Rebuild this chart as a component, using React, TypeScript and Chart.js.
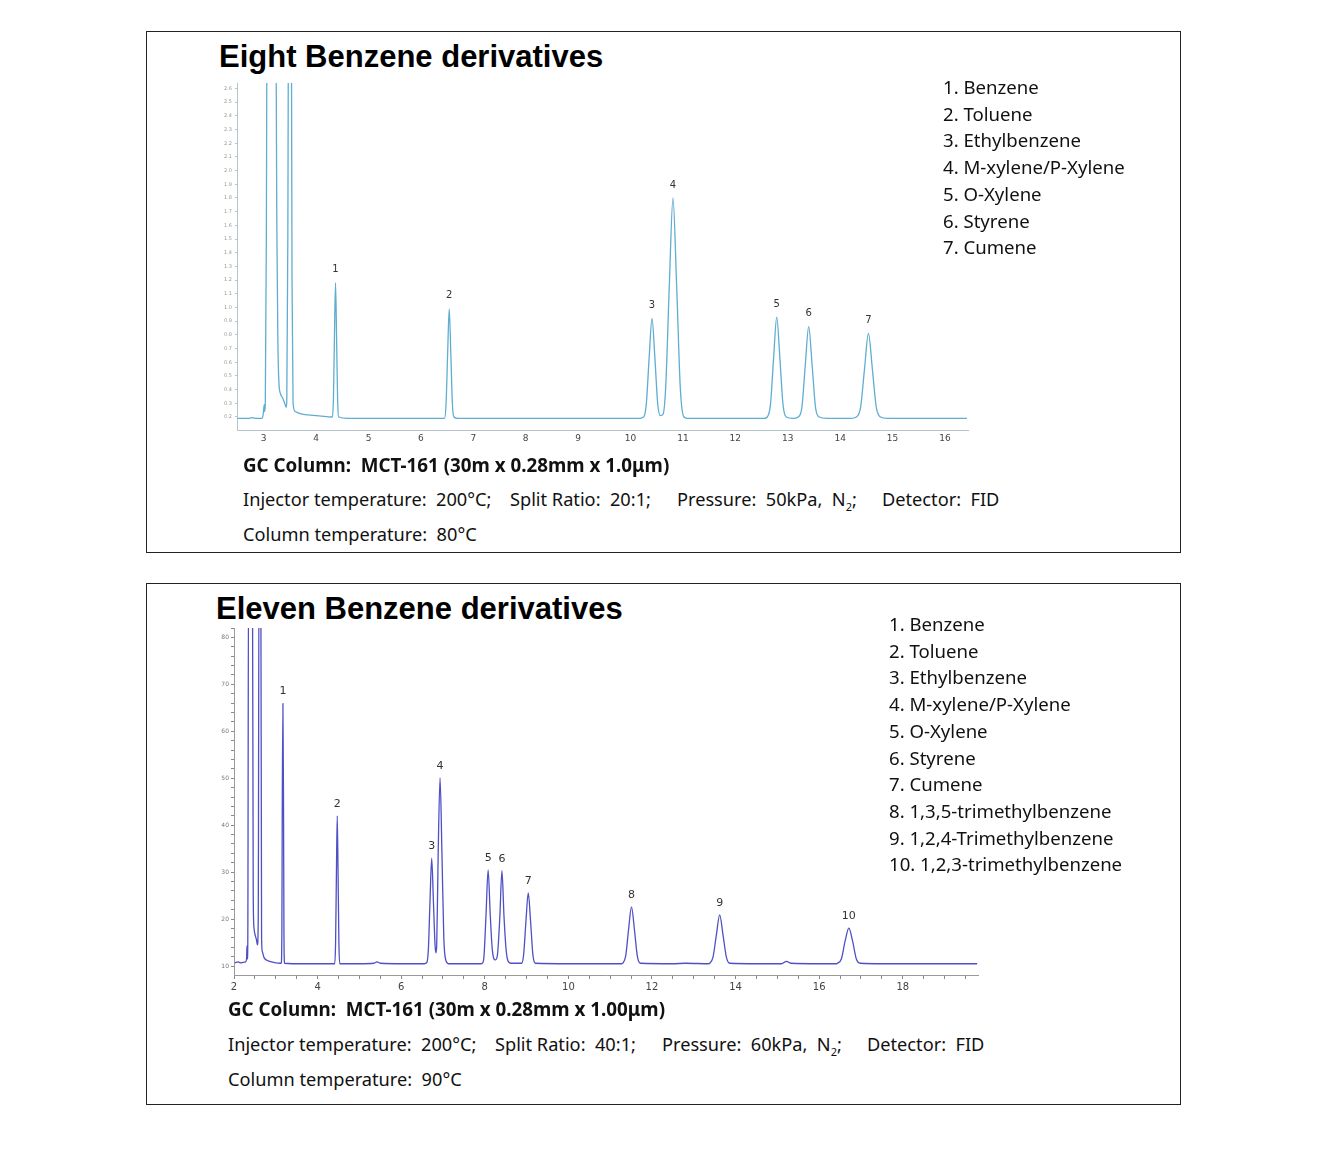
import React, { useEffect, useRef } from "react";
import { Chart, registerables } from "chart.js";

Chart.register(...registerables);

// ---------- Chart 1: Eight Benzene derivatives ----------
const topTitle = "Eight Benzene derivatives";
const topCompounds = [
  "1. Benzene",
  "2. Toluene",
  "3. Ethylbenzene",
  "4. M-xylene/P-Xylene",
  "5. O-Xylene",
  "6. Styrene",
  "7. Cumene",
];
const topPeakNumbers = ["1", "2", "3", "4", "5", "6", "7"];
const topPeakTimes = [4.37, 6.54, 10.41, 10.81, 12.79, 13.4, 14.54];
const topPeakHeights = [1.18, 0.99, 0.92, 1.8, 0.93, 0.86, 0.81];
const topXTicks = [3, 4, 5, 6, 7, 8, 9, 10, 11, 12, 13, 14, 15, 16];
// retention time (min), signal
const topTrace: [number, number][] = [
  [2.5, 0.19], [2.7, 0.19], [2.78, 0.195], [2.82, 0.192], [2.9, 0.19], [2.97, 0.19],
  [2.99, 0.22], [3.01, 0.29], [3.02, 0.24], [3.03, 0.3], [3.05, 1.5], [3.07, 4.0],
  [3.22, 4.0], [3.25, 1.6], [3.27, 0.75], [3.29, 0.45], [3.32, 0.37], [3.36, 0.34],
  [3.4, 0.3], [3.43, 0.27], [3.44, 0.32], [3.46, 1.5], [3.48, 4.0], [3.52, 4.0],
  [3.54, 1.2], [3.56, 0.3], [3.6, 0.24], [3.7, 0.225], [3.85, 0.215], [4.0, 0.21],
  [4.15, 0.205], [4.28, 0.2],
  [4.31, 0.2], [4.33, 0.33], [4.35, 0.79], [4.37, 1.18], [4.39, 0.79], [4.41, 0.33], [4.43, 0.2],
  [4.6, 0.19], [5.0, 0.19], [5.5, 0.19], [6.0, 0.19], [6.4, 0.19],
  [6.45, 0.19], [6.48, 0.3], [6.51, 0.67], [6.54, 0.99], [6.57, 0.67], [6.6, 0.3], [6.63, 0.2],
  [6.7, 0.19], [7.5, 0.19], [8.5, 0.19], [9.5, 0.19], [10.15, 0.19],
  [10.25, 0.2], [10.3, 0.29], [10.355, 0.63], [10.41, 0.92], [10.465, 0.63], [10.52, 0.29],
  [10.57, 0.21], [10.62, 0.22],
  [10.67, 0.41], [10.74, 1.16], [10.81, 1.8], [10.88, 1.16], [10.95, 0.41], [11.02, 0.2],
  [11.1, 0.19], [12.0, 0.19], [12.55, 0.19],
  [12.61, 0.2], [12.67, 0.29], [12.73, 0.63], [12.79, 0.93], [12.85, 0.63], [12.91, 0.29],
  [12.97, 0.2], [13.1, 0.19],
  [13.2, 0.2], [13.27, 0.27], [13.335, 0.58], [13.4, 0.86], [13.465, 0.58], [13.53, 0.27],
  [13.6, 0.2], [13.75, 0.19], [14.2, 0.19], [14.31, 0.2],
  [14.39, 0.27], [14.465, 0.55], [14.54, 0.81], [14.615, 0.55], [14.69, 0.27], [14.77, 0.2],
  [14.9, 0.19], [16.42, 0.19],
];
const topColumn = "GC Column:  MCT-161 (30m x 0.28mm x 1.0μm)";
const topConditions = ["Injector temperature:  200°C;", "Split Ratio:  20:1;", "Pressure:  50kPa,  N|2|;", "Detector:  FID"];
const topColumnTemp = "Column temperature:  80°C";

// ---------- Chart 2: Eleven Benzene derivatives ----------
const botTitle = "Eleven Benzene derivatives";
const botCompounds = [
  "1. Benzene",
  "2. Toluene",
  "3. Ethylbenzene",
  "4. M-xylene/P-Xylene",
  "5. O-Xylene",
  "6. Styrene",
  "7. Cumene",
  "8. 1,3,5-trimethylbenzene",
  "9. 1,2,4-Trimethylbenzene",
  "10. 1,2,3-trimethylbenzene",
];
const botPeakNumbers = ["1", "2", "3", "4", "5", "6", "7", "8", "9", "10"];
const botPeakTimes = [3.17, 4.47, 6.73, 6.93, 8.08, 8.41, 9.04, 11.51, 13.62, 16.71];
const botPeakHeights = [65.9, 42.0, 33.0, 50.1, 30.5, 30.3, 25.6, 22.6, 20.9, 18.1];
const botTrace: [number, number][] = [
  [2.02, 10.7], [2.1, 10.9], [2.16, 10.7], [2.22, 10.8], [2.28, 10.9], [2.3, 11.5],
  [2.31, 14.3], [2.32, 11.5], [2.33, 15], [2.35, 100], [2.44, 100], [2.46, 25], [2.48, 18],
  [2.51, 16.5], [2.54, 15.5], [2.56, 14.5], [2.58, 20], [2.6, 100], [2.64, 100], [2.66, 16],
  [2.68, 13], [2.72, 11.8], [2.8, 11.2], [2.9, 10.9], [3.0, 10.7], [3.1, 10.6],
  [3.13, 10.6], [3.145, 17], [3.155, 44], [3.17, 65.9], [3.185, 44], [3.195, 17], [3.21, 10.6],
  [3.4, 10.5], [4.0, 10.5], [4.38, 10.5],
  [4.41, 10.5], [4.43, 14.8], [4.45, 29.4], [4.47, 42.0], [4.49, 29.4], [4.51, 14.8], [4.53, 10.5],
  [5.0, 10.5], [5.35, 10.6], [5.42, 10.9], [5.5, 10.6], [6.0, 10.5], [6.55, 10.5],
  [6.61, 10.7], [6.65, 13.5], [6.69, 24], [6.73, 33.0], [6.77, 24], [6.81, 14.5], [6.83, 12.8],
  [6.85, 14.5], [6.885, 34], [6.93, 50.1], [6.975, 34], [7.02, 15.9], [7.07, 11.2], [7.13, 10.5],
  [7.6, 10.5], [7.9, 10.5],
  [7.95, 10.7], [7.98, 12], [8.03, 21], [8.08, 30.5], [8.13, 21], [8.18, 13.5], [8.25, 11.3],
  [8.3, 12.2], [8.36, 20.5], [8.41, 30.3], [8.46, 20.5], [8.51, 13.5], [8.56, 11.0], [8.63, 10.6],
  [8.88, 10.6], [8.93, 12.5], [8.985, 19.6], [9.04, 25.6], [9.095, 19.6], [9.15, 12.5], [9.21, 10.6],
  [10.0, 10.5], [11.0, 10.5], [11.28, 10.5],
  [11.3, 10.6], [11.37, 12.1], [11.44, 17.8], [11.51, 22.6], [11.58, 17.8], [11.65, 12.1], [11.72, 10.6],
  [12.5, 10.5], [12.8, 10.6], [13.36, 10.5],
  [13.38, 10.6], [13.46, 11.9], [13.54, 16.6], [13.62, 20.9], [13.7, 16.6], [13.78, 11.9], [13.86, 10.6],
  [14.5, 10.5], [15.1, 10.5], [15.22, 11.0], [15.32, 10.6], [16.0, 10.5], [16.42, 10.5],
  [16.44, 10.6], [16.53, 11.5], [16.62, 15.3], [16.71, 18.1], [16.8, 15.3], [16.89, 11.5], [16.98, 10.6],
  [17.5, 10.5], [19.78, 10.5],
];
const botColumn = "GC Column:  MCT-161 (30m x 0.28mm x 1.00μm)";
const botConditions = ["Injector temperature:  200°C;", "Split Ratio:  40:1;", "Pressure:  60kPa,  N|2|;", "Detector:  FID"];
const botColumnTemp = "Column temperature:  90°C";

const TEXT_FONT = "'Noto Sans', sans-serif";

type ChromOpts = {
  trace: [number, number][];
  color: string;
  peakNumbers: string[];
  peakTimes: number[];
  peakHeights: number[];
  xMin: number;
  xMax: number;
  yMin: number;
  yMax: number;
  variant: "top" | "bottom";
};

function Chromatogram(props: ChromOpts & { left: number; top: number; width: number; height: number; yWidth: number; xHeight: number; padRight: number; padTop: number }) {
  const ref = useRef<HTMLCanvasElement | null>(null);
  useEffect(() => {
    if (!ref.current) return;
    const p = props;
    const isTop = p.variant === "top";
    const peakLabelPlugin = {
      id: "peakLabels",
      afterDatasetsDraw(chart: any) {
        const ctx = chart.ctx;
        const xs = chart.scales.x;
        const ys = chart.scales.y;
        ctx.save();
        ctx.fillStyle = "#333";
        ctx.font = (isTop ? "10px" : "11px") + " 'DejaVu Sans', sans-serif";
        ctx.textAlign = "center";
        ctx.textBaseline = "middle";
        p.peakNumbers.forEach((n, i) => {
          ctx.fillText(n, xs.getPixelForValue(p.peakTimes[i]), ys.getPixelForValue(p.peakHeights[i]) - (isTop ? 13 : 12));
        });
        ctx.restore();
      },
    };
    const chart = new Chart(ref.current, {
      type: "line",
      data: {
        datasets: [
          {
            data: p.trace.map(([x, y]) => ({ x, y })),
            borderColor: p.color,
            borderWidth: 1.3,
            pointRadius: 0,
            fill: false,
            cubicInterpolationMode: "monotone",
          },
        ],
      },
      options: {
        animation: false,
        responsive: false,
        maintainAspectRatio: false,
        layout: { padding: { top: p.padTop, right: p.padRight, left: 0, bottom: 0 } },
        plugins: { legend: { display: false }, tooltip: { enabled: false } },
        scales: {
          x: {
            type: "linear",
            min: p.xMin,
            max: p.xMax,
            afterFit: (s: any) => { s.height = p.xHeight; },
            border: { display: true, color: isTop ? "#b8c4cc" : "#9a9a9a", width: 1 },
            grid: isTop
              ? { display: false, drawTicks: false }
              : { display: true, drawOnChartArea: false, drawTicks: true, tickLength: 4, color: "#888" },
            ticks: isTop
              ? {
                  stepSize: 1,
                  autoSkip: false,
                  includeBounds: false,
                  maxRotation: 0,
                  padding: 3,
                  color: "#444",
                  font: { size: 9, family: "'DejaVu Sans', sans-serif" },
                  callback: (v: any) => (topXTicks.includes(Number(v)) ? String(v) : ""),
                }
              : {
                  stepSize: 0.5,
                  autoSkip: false,
                  includeBounds: false,
                  maxRotation: 0,
                  padding: 2,
                  color: "#444",
                  font: { size: 10, family: "'DejaVu Sans', sans-serif" },
                  callback: (v: any) => (Math.abs(Number(v) % 2) < 1e-6 ? String(v) : ""),
                },
          },
          y: {
            type: "linear",
            min: p.yMin,
            max: p.yMax,
            afterFit: (s: any) => { s.width = p.yWidth; },
            border: { display: true, color: isTop ? "#b8c4cc" : "#9a9a9a", width: 1 },
            grid: isTop
              ? { display: true, drawOnChartArea: false, drawTicks: true, tickLength: 2, color: "#b8c4cc" }
              : { display: true, drawOnChartArea: false, drawTicks: true, tickLength: 3, color: "#888" },
            ticks: isTop
              ? {
                  stepSize: 0.1,
                  autoSkip: false,
                  includeBounds: false,
                  padding: 3,
                  color: "#999",
                  font: { size: 5, family: "'DejaVu Sans', sans-serif" },
                  callback: (v: any) => Number(v).toFixed(1),
                }
              : {
                  stepSize: 2,
                  autoSkip: false,
                  includeBounds: false,
                  padding: 2,
                  color: "#777",
                  font: { size: 6, family: "'DejaVu Sans', sans-serif" },
                  callback: (v: any) => (Math.abs(Number(v) % 10) < 1e-6 ? String(v) : ""),
                },
          },
        },
      } as any,
      plugins: [peakLabelPlugin],
    } as any);
    return () => chart.destroy();
  }, []);
  return (
    <canvas
      ref={ref}
      width={props.width}
      height={props.height}
      style={{ position: "absolute", left: props.left, top: props.top, width: props.width, height: props.height }}
    />
  );
}

function TextRun({ text, bold, left, cy, size }: { text: string; bold?: boolean; left: number; cy: number; size: number }) {
  const parts = text.split("|");
  return (
    <div
      style={{
        position: "absolute",
        left,
        top: cy - 13,
        height: 26,
        lineHeight: "26px",
        whiteSpace: "pre",
        fontFamily: TEXT_FONT,
        fontSize: size,
        fontWeight: bold ? 700 : 400,
        color: "#111",
      }}
    >
      {parts.length === 3 ? (
        <>
          {parts[0]}
          <sub style={{ fontSize: 11, lineHeight: 0 }}>{parts[1]}</sub>
          {parts[2]}
        </>
      ) : (
        text
      )}
    </div>
  );
}

function Conditions({ items, left, cy }: { items: string[]; left: number; cy: number }) {
  const offsets = [0, 267, 434, 639];
  return (
    <>
      {items.map((t, i) => (
        <TextRun key={i} text={t} left={left + offsets[i]} cy={cy} size={18.2} />
      ))}
    </>
  );
}

function Legend({ items, left, cy0 }: { items: string[]; left: number; cy0: number }) {
  return (
    <>
      {items.map((t, i) => (
        <TextRun key={i} text={t} left={left} cy={cy0 + i * 26.7} size={18.6} />
      ))}
    </>
  );
}

function Title({ text, left, cy }: { text: string; left: number; cy: number }) {
  return (
    <div
      style={{
        position: "absolute",
        left,
        top: cy - 18,
        height: 36,
        lineHeight: "36px",
        whiteSpace: "pre",
        fontFamily: "'Liberation Sans', Arial, sans-serif",
        fontWeight: 700,
        fontSize: 31,
        color: "#000",
      }}
    >
      {text}
    </div>
  );
}

export default function App() {
  return (
    <div style={{ position: "absolute", left: 0, top: 0, width: 1323, height: 1164, background: "#fff", overflow: "hidden" }}>
      {/* top panel */}
      <div style={{ position: "absolute", left: 146, top: 31, width: 1033, height: 520, border: "1px solid #222" }} />
      <Title text={topTitle} left={219} cy={57} />
      <Chromatogram
        left={200}
        top={75}
        width={790}
        height={385}
        yWidth={37}
        xHeight={30}
        padRight={22}
        padTop={8}
        trace={topTrace}
        color="#5fadd0"
        peakNumbers={topPeakNumbers}
        peakTimes={topPeakTimes}
        peakHeights={topPeakHeights}
        xMin={2.49}
        xMax={16.44}
        yMin={0.105}
        yMax={2.64}
        variant="top"
      />
      <Legend items={topCompounds} left={943} cy0={87} />
      <TextRun text={topColumn} bold left={243} cy={465} size={18.8} />
      <Conditions items={topConditions} left={243} cy={499} />
      <TextRun text={topColumnTemp} left={243} cy={534} size={18.2} />

      {/* bottom panel */}
      <div style={{ position: "absolute", left: 146, top: 583, width: 1033, height: 520, border: "1px solid #222" }} />
      <Title text={botTitle} left={216} cy={609} />
      <Chromatogram
        left={195}
        top={620}
        width={800}
        height={380}
        yWidth={39}
        xHeight={25}
        padRight={17}
        padTop={8}
        trace={botTrace}
        color="#4f4fc6"
        peakNumbers={botPeakNumbers}
        peakTimes={botPeakTimes}
        peakHeights={botPeakHeights}
        xMin={2}
        xMax={19.8}
        yMin={8.1}
        yMax={82}
        variant="bottom"
      />
      <Legend items={botCompounds} left={889} cy0={624} />
      <TextRun text={botColumn} bold left={228} cy={1009} size={18.8} />
      <Conditions items={botConditions} left={228} cy={1044} />
      <TextRun text={botColumnTemp} left={228} cy={1079} size={18.2} />
    </div>
  );
}
